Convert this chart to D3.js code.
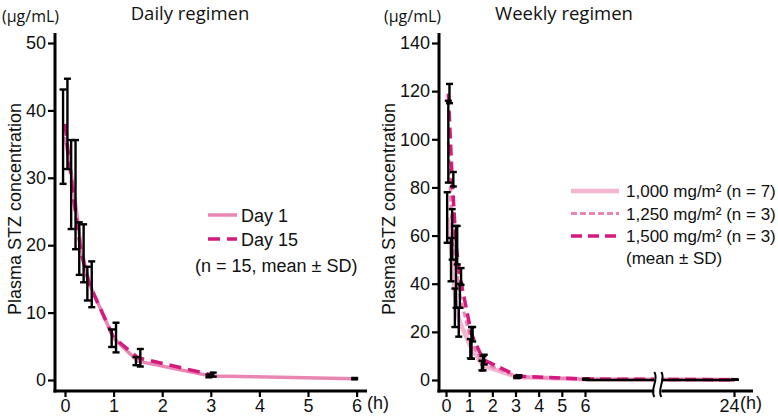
<!DOCTYPE html>
<html><head><meta charset="utf-8">
<script src="https://cdn.jsdelivr.net/npm/d3@7"></script>
<style>body{margin:0;background:#fff}svg{display:block}</style>
</head><body><svg id="c" width="778" height="418"></svg>
<script>
// ---------- Data ----------
const dailyTimes  = [0, 1/6, 1/3, 0.5, 1, 1.5, 3, 6];
const day1Mean    = [36.1, 29.0, 19.5, 14.3, 6.2, 2.8, 0.6, 0.2];
const day1SD      = [7.0, 6.6, 3.9, 2.5, 1.3, 0.6, 0.2, 0.1];
const day15Times  = [0, 1/6, 1/3, 0.5, 1, 1.5, 3];
const day15Mean   = [38.0, 27.5, 18.8, 14.2, 6.3, 3.3, 0.8];
const day15SD     = [6.7, 8.1, 4.3, 3.4, 2.2, 1.3, 0.3];

const weeklyTimes = [0, 1/6, 1/3, 0.5, 1, 1.5, 3, 6, 24];
const w1000Mean   = [67.5, 50, 30, 24, 13, 6, 1.2, 0.3, 0.1];
const w1000SD     = [10.5, 9, 8, 6, 4, 2, 0.4, 0.1, 0];
const w1250Mean   = [99, 60.5, 47, 35, 15.4, 7, 1.3, 0.3, 0.1];
const w1250SD     = [17, 10.5, 17, 5, 6.6, 3, 0.4, 0.1, 0];
const w1500Mean   = [119, 83.4, 56, 43, 19, 8.5, 1.6, 0.4, 0.1];
const w1500SD     = [4, 3, 8, 3.5, 3, 2, 0.4, 0.1, 0];

const dailyYTicks  = [0, 10, 20, 30, 40, 50];
const dailyXTicks  = [0, 1, 2, 3, 4, 5, 6];
const weeklyYTicks = [0, 20, 40, 60, 80, 100, 120, 140];
const weeklyXTicks = [0, 1, 2, 3, 4, 5, 6, 24];
const dailyLegend  = ["Day 1", "Day 15"];
const weeklyLegend = ["1,000 mg/m² (n = 7)", "1,250 mg/m² (n = 3)", "1,500 mg/m² (n = 3)"];

// ---------- Styles ----------
const C_DAY1 = "#ea86b4", C_DAY15 = "#d41a7c";
const C_W1000 = "#f3b5cf", C_W1250 = "#ea86b6", C_W1500 = "#d6197e";
const SANS = "'Liberation Sans', Arial, sans-serif";
const TITLEF = "'Open Sans', sans-serif";

const svg = d3.select("#c");

// ---------- Scales ----------
const yD = d3.scaleLinear().domain([0, 50]).range([380, 43]);
const xD = d3.scaleLinear().domain([0, 6]).range([65, 356.6]);
const yW = d3.scaleLinear().domain([0, 140]).range([380, 43]);
const xW = d3.scaleLinear().domain([0, 6, 24]).range([446, 585, 734]);

function drawAxes(g, x, y, xTicks, yTicks, xLine, yLine) {
  const ay = g.append("g").attr("transform", `translate(${xLine[0]},0)`)
    .call(d3.axisLeft(y).tickValues(yTicks).tickFormat(d3.format("d")).tickSize(7).tickPadding(2));
  const ax = g.append("g").attr("transform", `translate(0,${yLine[1]})`)
    .call(d3.axisBottom(x).tickValues(xTicks).tickFormat(d3.format("d")).tickSize(6).tickPadding(2));
  [ay, ax].forEach(a => {
    a.select(".domain").remove();
    a.selectAll("line").attr("stroke", "#000").attr("stroke-width", 2.2);
    a.selectAll("text").attr("font-family", SANS).attr("font-size", 18).attr("fill", "#111");
  });
  g.append("line").attr("x1", xLine[0]).attr("x2", xLine[0]).attr("y1", yLine[0]).attr("y2", yLine[1] + 1.5)
    .attr("stroke", "#000").attr("stroke-width", 3);
  g.append("line").attr("x1", xLine[0] - 1.5).attr("x2", xLine[1]).attr("y1", yLine[1]).attr("y2", yLine[1])
    .attr("stroke", "#000").attr("stroke-width", 3);
  return ax;
}

function drawLine(g, x, y, times, vals, color, width, dash, shift) {
  const line = d3.line().x((d, i) => x(times[i] + shift)).y(d => y(d));
  g.append("path").datum(vals).attr("d", line).attr("fill", "none")
    .attr("stroke", color).attr("stroke-width", width)
    .attr("stroke-dasharray", dash).attr("stroke-linejoin", "round");
}

function drawBars(g, x, y, times, mean, sd, shift) {
  const cw = 3.5;
  times.forEach((t, i) => {
    const cx = x(t + shift);
    const y1 = y(mean[i] + sd[i]), y2 = y(Math.max(0, mean[i] - sd[i]));
    const gg = g.append("g").attr("stroke", "#000").attr("stroke-width", 2.4);
    gg.append("line").attr("x1", cx).attr("x2", cx).attr("y1", y1).attr("y2", y2);
    gg.append("line").attr("x1", cx - cw).attr("x2", cx + cw).attr("y1", y1).attr("y2", y1);
    gg.append("line").attr("x1", cx - cw).attr("x2", cx + cw).attr("y1", y2).attr("y2", y2);
  });
}

// ---------- Daily panel ----------
const gD = svg.append("g");
drawAxes(gD, xD, yD, dailyXTicks, dailyYTicks, [55, 367], [33, 391]);
drawLine(gD, xD, yD, dailyTimes, day1Mean, C_DAY1, 3.5, null, 0);
drawLine(gD, xD, yD, day15Times, day15Mean, C_DAY15, 3.5, "12,7", 0);
drawBars(gD, xD, yD, dailyTimes, day1Mean, day1SD, -0.04);
drawBars(gD, xD, yD, day15Times, day15Mean, day15SD, 0.05);

gD.append("text").attr("x", 367).attr("y", 409).text("(h)")
  .attr("font-family", SANS).attr("font-size", 18).attr("fill", "#111");
gD.append("text").attr("x", 190).attr("y", 20).attr("text-anchor", "middle").text("Daily regimen")
  .attr("font-family", TITLEF).attr("font-size", 18.5).attr("fill", "#111");
gD.append("text").attr("x", 2).attr("y", 22).text("(μg/mL)")
  .attr("font-family", TITLEF).attr("font-size", 16).attr("fill", "#111");
gD.append("text").attr("transform", "translate(21,209) rotate(-90)").attr("text-anchor", "middle")
  .text("Plasma STZ concentration").attr("font-family", SANS).attr("font-size", 18).attr("fill", "#111");

// Daily legend
const dStyles = [[C_DAY1, null], [C_DAY15, "12,7"]];
dailyLegend.forEach((lab, i) => {
  const yy = 215 + i * 24;
  gD.append("line").attr("x1", 208).attr("x2", 237).attr("y1", yy).attr("y2", yy)
    .attr("stroke", dStyles[i][0]).attr("stroke-width", 3.5).attr("stroke-dasharray", dStyles[i][1]);
  gD.append("text").attr("x", 241).attr("y", yy + 6.5).text(lab)
    .attr("font-family", SANS).attr("font-size", 18).attr("fill", "#111");
});
gD.append("text").attr("x", 195).attr("y", 272).text("(n = 15, mean ± SD)")
  .attr("font-family", SANS).attr("font-size", 18).attr("fill", "#111");

// ---------- Weekly panel ----------
const gW = svg.append("g");
const axW = drawAxes(gW, xW, yW, weeklyXTicks, weeklyYTicks, [439, 753], [33, 391]);
// shift the "24" label left so the unit can follow it
axW.selectAll(".tick text").filter(d => d === 24).attr("text-anchor", "end").attr("dx", 5);
drawLine(gW, xW, yW, weeklyTimes, w1000Mean, C_W1000, 4.5, null, 0.1);
drawLine(gW, xW, yW, weeklyTimes, w1250Mean, C_W1250, 3, "6,3", 0.1);
drawLine(gW, xW, yW, weeklyTimes, w1500Mean, C_W1500, 3.5, "11,6", 0.1);
// baseline segment after 6 h
gW.append("line").attr("x1", xW(6 + 0.15)).attr("x2", xW(24)).attr("y1", yW(0)).attr("y2", yW(0))
  .attr("stroke", "#000").attr("stroke-width", 2.6);
drawBars(gW, xW, yW, weeklyTimes, w1000Mean, w1000SD, 0.05);
drawBars(gW, xW, yW, weeklyTimes, w1250Mean, w1250SD, 0.1);
drawBars(gW, xW, yW, weeklyTimes, w1500Mean, w1500SD, 0.15);

// axis break
const breakHour = 14.8;
const xb = xW(breakHour);
gW.append("rect").attr("x", xb - 3.5).attr("y", 372).attr("width", 7).attr("height", 26).attr("fill", "#fff");
[-3.5, 3.5].forEach(dx => {
  gW.append("path")
    .attr("d", `M${xb + dx},372 C${xb + dx + 5},380 ${xb + dx - 5},389 ${xb + dx},397`)
    .attr("fill", "none").attr("stroke", "#000").attr("stroke-width", 2);
});

gW.append("text").attr("x", 740).attr("y", 409).text("(h)")
  .attr("font-family", SANS).attr("font-size", 18).attr("fill", "#111");
gW.append("text").attr("x", 564).attr("y", 20).attr("text-anchor", "middle").text("Weekly regimen")
  .attr("font-family", TITLEF).attr("font-size", 18.5).attr("fill", "#111");
gW.append("text").attr("x", 384).attr("y", 22).text("(μg/mL)")
  .attr("font-family", TITLEF).attr("font-size", 16).attr("fill", "#111");
gW.append("text").attr("transform", "translate(395,209) rotate(-90)").attr("text-anchor", "middle")
  .text("Plasma STZ concentration").attr("font-family", SANS).attr("font-size", 18).attr("fill", "#111");

// Weekly legend
const wStyles = [[C_W1000, null, 4.5], [C_W1250, "6,3", 3], [C_W1500, "11,6", 3.5]];
weeklyLegend.forEach((lab, i) => {
  const yy = 191 + i * 22.5;
  gW.append("line").attr("x1", 571).attr("x2", 619).attr("y1", yy).attr("y2", yy)
    .attr("stroke", wStyles[i][0]).attr("stroke-width", wStyles[i][2]).attr("stroke-dasharray", wStyles[i][1]);
  gW.append("text").attr("x", 626).attr("y", yy + 6).text(lab)
    .attr("font-family", SANS).attr("font-size", 17).attr("fill", "#111");
});
gW.append("text").attr("x", 626).attr("y", 264).text("(mean ± SD)")
  .attr("font-family", SANS).attr("font-size", 17).attr("fill", "#111");
</script>
</body></html>
